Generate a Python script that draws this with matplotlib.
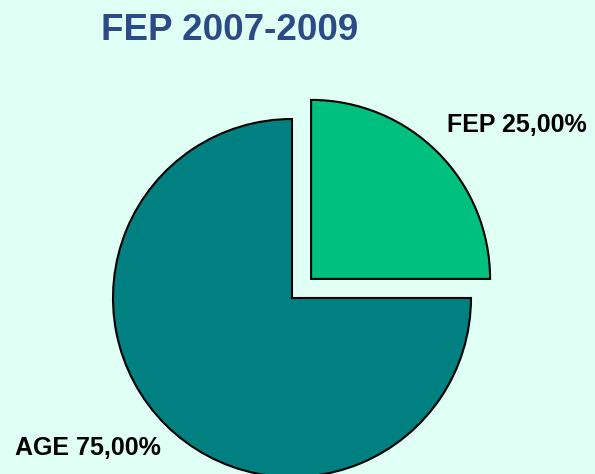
import matplotlib.pyplot as plt

# data
labels = ["FEP", "AGE"]
values = [25.0, 75.0]
colors = ["#00c080", "#008080"]
title = "FEP 2007-2009"

bg = "#e0fff5"
plt.rcParams['font.family'] = ['Liberation Sans', 'DejaVu Sans']

fig = plt.figure(figsize=(5.95, 4.74), dpi=100)
fig.patch.set_facecolor(bg)
ax = fig.add_axes([0, 0, 1, 1])
ax.set_facecolor(bg)
ax.set_aspect('equal')
ax.axis('off')

# pie in pixel coordinates (explode is in data units here)
ax.pie(values, colors=colors, startangle=0, counterclock=True,
       explode=[27, 0], center=(292, 176), radius=179,
       wedgeprops=dict(edgecolor="black", linewidth=1.5), frame=False)
ax.set_xlim(0, 595)
ax.set_ylim(0, 474)

# labels with percentages
for lab, v, (x, y) in zip(labels, values, [(447, 474 - 125), (15, 474 - 448)]):
    txt = f"{lab} {v:.2f}%".replace(".", ",")
    ax.text(x, y, txt, ha="left", va="center", fontsize=18, fontweight="bold", color="black")

ax.text(230, 474 - 30, title, ha="center", va="center", fontsize=26.5,
        fontweight="bold", color="#2b4a86")

fig.savefig("out.png", dpi=100, facecolor=bg)
